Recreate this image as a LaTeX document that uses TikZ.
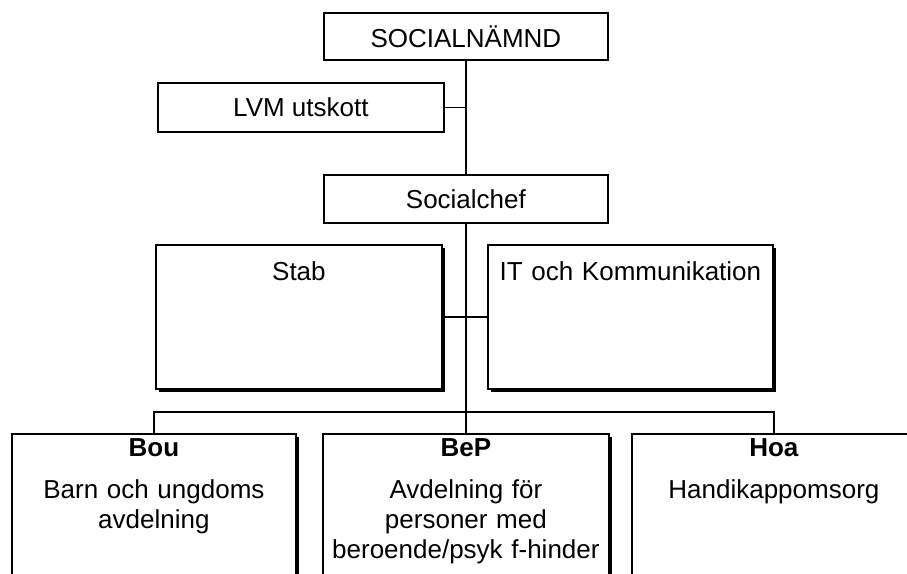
\documentclass[tikz,border=0pt]{standalone}
\usepackage{fontspec}
\setmainfont{Liberation Sans}
\usetikzlibrary{shadows}
\begin{document}
\begin{tikzpicture}[x=1pt,y=-1pt,
  every node/.style={font=\fontsize{26}{30}\selectfont},
  plainbox/.style={draw=black, line width=1.8pt, fill=white, inner sep=0pt, anchor=north west, align=center},
  shadowbox/.style={plainbox, drop shadow={shadow xshift=3pt, shadow yshift=-3pt, fill=black, opacity=1}},
  conn/.style={draw=black, line width=1.8pt},
  busline/.style={draw=black, line width=1.4pt}]
\useasboundingbox (0,0) rectangle (907,573);
\clip (0,0) rectangle (907,573);
% top level
\node[plainbox, minimum width=284pt, minimum height=47pt] (nam) at (323,12) {SOCIALNÄMND};
\node[plainbox, minimum width=286pt, minimum height=49pt] (lvm) at (157,82) {LVM utskott};
\node[plainbox, minimum width=284pt, minimum height=48pt] (chef) at (323,174) {Socialchef};
% staff boxes
\node[shadowbox, text width=286pt, text height=36pt, text depth=108pt] (stab) at (155,244) {Stab};
\node[shadowbox, text width=285pt, text height=36pt, text depth=108pt] (it) at (487,244) {IT och Kommunikation};
% departments
\node[shadowbox, text width=284pt, text height=23pt, text depth=160pt] (bou) at (11,433)
  {\textbf{Bou}\\[12pt]Barn och ungdoms\\avdelning};
\node[shadowbox, text width=286pt, text height=23pt, text depth=160pt] (bep) at (322,433)
  {\textbf{BeP}\\[12pt]Avdelning för\\personer med\\beroende/psyk f-hinder};
\node[shadowbox, text width=284pt, text height=23pt, text depth=160pt] (hoa) at (631,433)
  {\textbf{Hoa}\\[12pt]Handikappomsorg};
% connectors
\coordinate (bus) at (465,412);
\draw[conn] (nam.south) -- (chef.north);
\draw[conn] (lvm.east) -- (lvm.east -| nam.south);
\draw[conn] (chef.south) -- (bep.north);
\draw[conn] (stab.east) -- (it.west);
\draw[busline] (bou.north) |- (bus) -| (hoa.north);
\end{tikzpicture}
\end{document}
